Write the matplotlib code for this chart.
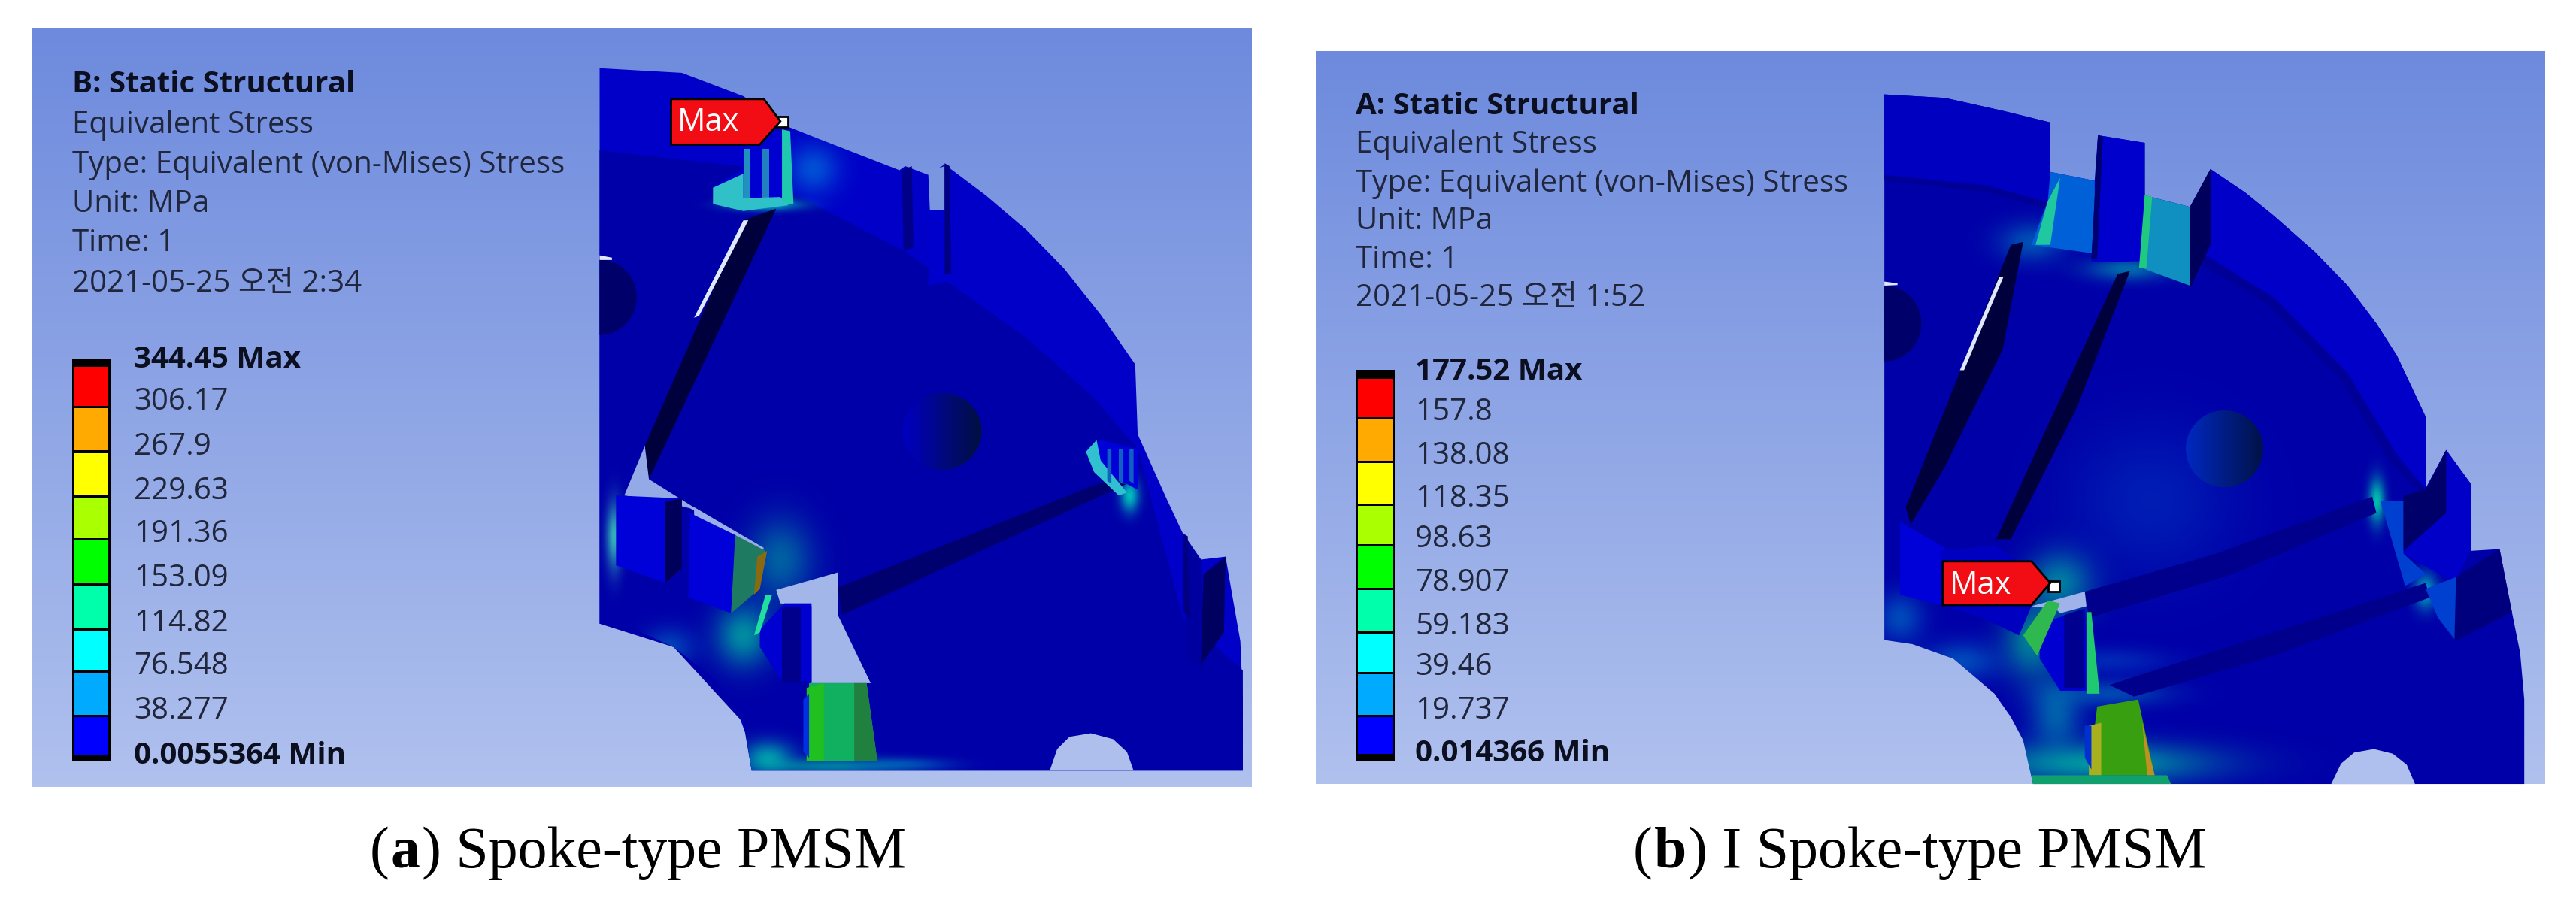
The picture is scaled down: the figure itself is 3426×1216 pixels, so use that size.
import numpy as np
import matplotlib
matplotlib.use("Agg")
import matplotlib.pyplot as plt
from matplotlib.patches import Polygon, Ellipse, Rectangle
from matplotlib.colors import LinearSegmentedColormap, to_rgb

plt.rcParams['font.family'] = ['Open Sans', 'Noto Sans CJK KR', 'DejaVu Sans']

# ---------- content ----------
band_colors = ['#FF0000', '#FFAA00', '#FFFF00', '#AAFF00', '#00FF00', '#00FFAA', '#00FFFF', '#00AAFF', '#0000FF']
labels_a = ['344.45 Max', '306.17', '267.9', '229.63', '191.36', '153.09', '114.82', '76.548', '38.277', '0.0055364 Min']
labels_b = ['177.52 Max', '157.8', '138.08', '118.35', '98.63', '78.907', '59.183', '39.46', '19.737', '0.014366 Min']
head_a = ['B: Static Structural', 'Equivalent Stress', 'Type: Equivalent (von-Mises) Stress', 'Unit: MPa', 'Time: 1', '2021-05-25 오전 2:34']
head_b = ['A: Static Structural', 'Equivalent Stress', 'Type: Equivalent (von-Mises) Stress', 'Unit: MPa', 'Time: 1', '2021-05-25 오전 1:52']

TXT = '#20263c'
BG_TOP, BG_BOT = '#6d8add', '#b0c1ee'
BLUE, BLUE2, DARK, NAVY = '#0000a8', '#0000c8', '#00006e', '#00003c'

fig = plt.figure(figsize=(34.26, 12.16), dpi=100, facecolor='white')
axa = fig.add_axes([0, 0, 0.5, 1])
axb = fig.add_axes([0.5, 0, 0.5, 1])
cmap_bg = LinearSegmentedColormap.from_list('bg', [BG_TOP, BG_BOT])

def setup(ax):
    ax.set_xlim(0, 1568); ax.set_ylim(1568, 0); ax.axis('off')

def poly(ax, pts, fc, ec='none', lw=0, z=3, alpha=None, clip=None):
    p = Polygon(pts, closed=True, fc=fc, ec=ec, lw=lw, zorder=z, alpha=alpha)
    ax.add_patch(p)
    if clip is not None:
        p.set_clip_path(clip)
    return p

def glow(ax, cx, cy, rx, ry, color, clip, strength=0.9, z=4):
    x0, x1, y0, y1 = cx - 3*rx, cx + 3*rx, cy - 3*ry, cy + 3*ry
    xx, yy = np.meshgrid(np.linspace(x0, x1, 90), np.linspace(y0, y1, 90))
    a = strength*np.exp(-((xx-cx)/rx)**2/2 - ((yy-cy)/ry)**2/2)
    rgba = np.zeros(a.shape + (4,))
    rgba[..., :3] = to_rgb(color); rgba[..., 3] = a
    im = ax.imshow(rgba, extent=(x0, x1, y1, y0), zorder=z, interpolation='bilinear', aspect='auto')
    im.set_clip_path(clip)
    ax.set_xlim(0, 1568); ax.set_ylim(1568, 0)

def hgrad(ax, cx, cy, rx, ry, c0, c1, z=5):
    e = Ellipse((cx, cy), 2*rx, 2*ry, fc='none', ec='none', zorder=z)
    ax.add_patch(e)
    g = np.linspace(0, 1, 64)[None, :]
    im = ax.imshow(g, cmap=LinearSegmentedColormap.from_list('h', [c0, c1]), zorder=z,
                   extent=(cx-rx, cx+rx, cy+ry, cy-ry), aspect='auto')
    im.set_clip_path(e)
    ax.set_xlim(0, 1568); ax.set_ylim(1568, 0)

def panel(ax, x0, x1, y0, y1):
    g = np.linspace(0, 1, 256)[:, None]
    ax.imshow(g, cmap=cmap_bg, extent=(x0, x1, y1, y0), aspect='auto', zorder=1)
    ax.set_xlim(0, 1568); ax.set_ylim(1568, 0)
    def bgc(y):
        return cmap_bg((y - y0) / (y1 - y0))
    return bgc

def legend(ax, xb0, xb1, top, edges, bottom, xt, ys, labels, heads, xh, yh):
    ax.add_patch(Rectangle((xb0, top), xb1-xb0, bottom-top, fc='black', ec='none', zorder=6))
    for i, c in enumerate(band_colors):
        ax.add_patch(Rectangle((xb0+3, edges[i]+2), xb1-xb0-6, edges[i+1]-edges[i]-4, fc=c, ec='none', zorder=7))
    for i, (lab, y) in enumerate(zip(labels, ys)):
        bold = i in (0, len(labels)-1)
        ax.text(xt, y, lab, fontsize=29, color='#0c0f20' if bold else TXT, fontweight='bold' if bold else 'normal',
                va='center', ha='left', zorder=8)
    for i, (h, y) in enumerate(zip(heads, yh)):
        ax.text(xh, y, h, fontsize=29, color='#0c0f20' if i == 0 else TXT, fontweight='bold' if i == 0 else 'normal',
                va='center', ha='left', zorder=8)

def tag(ax, pts, tx, ty, dot):
    poly(ax, pts, '#f20d14', ec='black', lw=2, z=9)
    ax.text(tx, ty, 'Max', color='white', fontsize=30, va='center', ha='left', zorder=10)
    ax.add_patch(Rectangle(dot, 14, 18, fc='white', ec='black', lw=2, zorder=8))

def caption(ax, x, y, parts):
    r = fig.canvas.get_renderer()
    for s, w in parts:
        t = ax.text(x, y, s, fontsize=56, family='Liberation Serif', fontweight=w, va='baseline', ha='left', color='black', zorder=8)
        x += t.get_window_extent(r).width * 1568 / 1713 + 2

# ==================== panel (a) ====================
setup(axa)
bg = panel(axa, 38, 1523, 48, 1350)
outer_a = [(730,117),(830,125),(905,165),(955,215),(1000,240),(1095,292),(1102,285),(1130,300),(1150,282),(1200,335),(1250,395),
           (1295,460),(1340,540),(1382,625),(1385,745),(1420,855),(1440,915),(1462,960),(1492,955),(1500,1020),(1510,1100),(1513,1200),(1513,1322),
           (915,1322),(908,1260),(895,1210),(870,1165),(820,1110),(770,1078),(730,1070)]
hole_a = [(1380,1322),(1372,1290),(1355,1268),(1328,1258),(1302,1264),(1287,1285),(1278,1322)]
body_a = poly(axa, outer_a, BLUE2, z=3)
face_a = [(730,258),(900,285),(1100,430),(1150,480),(1250,580),(1330,680),(1385,770),(1440,1060),(1513,1150),(1513,1322),(915,1322),(905,1240),(820,1110),(730,1070)]
poly(axa, face_a, BLUE, z=3.1)
for cx, cy, rx, ry, col, s in [(950,960,28,50,'#00a0a0',0.6),(905,1090,24,38,'#00c8a0',0.7),(815,1110,22,24,'#00a0d0',0.4),
                               (1010,1315,60,10,'#00d0a0',0.6),(935,1300,22,20,'#00d8b0',0.7),(1100,1312,40,8,'#00a0d0',0.4),
                               (1375,850,8,20,'#00e0c0',0.85),(990,290,22,30,'#0090e0',0.55),(748,920,7,40,'#40e0c0',0.8),
                               (930,352,30,7,'#00e8c0',0.8)]:
    glow(axa, cx, cy, rx, ry, col, body_a, s)
# pockets
poly(axa, [(945,358),(905,378),(785,765),(790,822)], NAVY, z=5)
poly(axa, [(905,378),(845,545),(851,542),(911,378)], '#dfe8ff', z=5.1)
poly(axa, [(1372,830),(1340,828),(1020,1008),(1025,1055)], DARK, z=5)
# cut-outs
poly(axa, [(785,765),(760,850),(812,862),(840,872),(932,945),(850,875),(790,822)], bg(810), z=5)
poly(axa, [(845,870),(930,940),(925,950),(895,918),(845,885)], bg(900), z=5)
poly(axa, [(945,1012),(1020,982),(1020,1055),(1060,1172),(988,1172),(988,1040),(950,1035)], bg(1080), z=5)
poly(axa, hole_a, bg(1300), z=5)
# magnet blocks
poly(axa, [(750,850),(830,855),(830,975),(810,1000),(750,970)], '#0000d8', z=5)
poly(axa, [(810,860),(830,855),(830,975),(810,1000)], '#00005a', z=5.1)
poly(axa, [(840,880),(895,918),(890,1052),(838,1025)], '#0000d8', z=5)
poly(axa, [(895,918),(932,945),(925,1010),(890,1052)], '#1e7a60', z=5.1)
poly(axa, [(922,955),(934,945),(925,1010),(918,1020)], '#8a6a10', z=5.2)
poly(axa, [(940,1020),(925,1085),(918,1090),(932,1020)], '#20e0a0', z=5.3)
poly(axa, [(925,1080),(955,1035),(988,1035),(988,1170),(950,1165),(925,1110)], '#0000d0', z=5)
poly(axa, [(952,1040),(975,1040),(975,1170),(952,1170)], '#00008c', z=5.1)
# green rib at the bottom
poly(axa, [(985,1172),(1055,1172),(1068,1305),(982,1305)], '#10b060', z=5)
poly(axa, [(982,1180),(1003,1172),(1003,1305),(982,1305)], '#20c020', z=5.1)
poly(axa, [(1040,1172),(1055,1172),(1068,1305),(1040,1305)], '#208040', z=5.1)
poly(axa, [(978,1200),(985,1190),(985,1300),(978,1290)], '#0030e0', z=5.2)
# upper notch & tooth
poly(axa, [(905,250),(955,215),(965,350),(870,352),(868,320),(905,290)], '#0000d0', z=5)
poly(axa, [(952,222),(962,225),(966,350),(952,350)], '#20c8b0', z=5.1)
poly(axa, [(905,255),(913,255),(913,345),(905,345)], '#2090c0', z=5.1)
poly(axa, [(928,255),(936,255),(936,345),(928,345)], '#2080c0', z=5.1)
poly(axa, [(868,322),(905,298),(905,340),(950,338),(960,352),(905,362),(868,350)], '#30c0c8', z=5.12)
poly(axa, [(1098,292),(1110,285),(1112,425),(1100,430)], '#000088', z=5)
poly(axa, [(1130,295),(1150,285),(1150,360),(1132,360)], bg(330), z=5)
poly(axa, [(1132,360),(1150,360),(1160,480),(1130,490)], '#0000cc', z=5)
poly(axa, [(1150,280),(1156,285),(1158,470),(1150,470)], '#000080', z=5.1)
# right notch
poly(axa, [(1322,770),(1340,755),(1385,770),(1385,840),(1345,810)], '#0000d8', z=5)
poly(axa, [(1322,775),(1335,755),(1340,790),(1372,845),(1362,850),(1332,810)], '#30c0d0', z=5.1)
for x in (1348, 1362, 1375):
    poly(axa, [(x,770),(x+5,770),(x+5,830),(x,825)], '#1060c0', z=5.2)
# right tooth
poly(axa, [(1440,915),(1462,960),(1465,1150),(1445,1130)], '#0000a0', z=5)
poly(axa, [(1462,1140),(1465,985),(1492,955),(1490,1085)], '#000060', z=5.1)
poly(axa, [(1440,915),(1446,920),(1448,1060),(1441,1050)], '#000080', z=5.1)
# holes
hgrad(axa, 1147, 740, 48, 66, '#0000c0', '#001040')
e = Ellipse((730, 510), 90, 130, fc='#00006a', ec='none', zorder=5); axa.add_patch(e)
e.set_clip_path(body_a)
poly(axa, [(730,438),(745,442),(745,446),(730,446)], '#e0e8ff', z=5.2)
tag(axa, [(817,170),(930,170),(950,208),(925,248),(817,248)], 825, 210, (945,200))
legend(axa, 88, 135, 615, [627,698,775,852,925,1002,1080,1152,1228,1297], 1306, 163, [617,690,767,843,916,993,1070,1143,1219,1296],
       labels_a, head_a, 88, [145,215,283,350,418,487])
caption(axa, 450, 1488, [('(', 'normal'), ('a', 'bold'), (') Spoke-type PMSM', 'normal')])

# ==================== panel (b) ====================
setup(axb)
bg = panel(axb, 34, 1530, 88, 1345)
outer_b = [(726,162),(800,168),(870,190),(928,210),(928,295),(982,310),(986,232),(1043,245),(1043,335),(1098,355),(1123,290),(1165,330),(1200,370),
           (1250,432),(1290,490),(1325,555),(1350,610),(1385,715),(1385,838),(1410,772),(1440,830),(1440,945),(1475,942),(1483,1000),(1490,1050),(1500,1120),(1505,1200),(1505,1345),
           (907,1345),(895,1270),(880,1230),(860,1190),(810,1130),(760,1105),(726,1098)]
hole_b = [(1372,1345),(1362,1312),(1345,1293),(1322,1285),(1298,1291),(1282,1310),(1270,1345)]
body_b = poly(axb, outer_b, BLUE, z=3)
poly(axb, [(726,162),(800,168),(870,190),(928,210),(928,350),(726,300)], '#0000c0', z=3.1)
poly(axb, [(1123,290),(1165,330),(1200,370),(1250,432),(1290,490),(1325,555),(1350,610),(1385,715),(1385,838),(1340,770),(1290,640),(1200,510),(1098,420)], '#0000c8', z=3.1)
poly(axb, [(726,300),(850,318),(1000,375),(1100,425),(1200,510),(1290,640),(1350,780),(1385,840),(1380,850),(1340,790),(1280,650),(1190,520),(1095,440),(1000,390),(850,330),(726,310)], '#000098', z=3.2)
for cx, cy, rx, ry, col, s in [(905,415,28,24,'#00a0c0',0.5),(1022,462,35,14,'#00b0b0',0.6),(940,1000,28,38,'#00c0a0',0.65),(905,1100,24,45,'#00b890',0.7),
                               (820,1135,32,24,'#00a0d0',0.45),(745,1060,20,30,'#00a0d0',0.45),(985,1310,100,25,'#00c8a0',0.75),(935,1225,22,45,'#00a0b0',0.6),
                               (1000,1190,50,16,'#00a0c0',0.45),(1050,860,70,90,'#0060d0',0.3),(1325,860,7,28,'#00e0b0',0.85),(1385,1015,10,22,'#00d0c0',0.75),(1000,1135,50,16,'#0070d0',0.35)]:
    glow(axb, cx, cy, rx, ry, col, body_b, s)
# pockets
poly(axb, [(895,415),(880,420),(752,870),(758,900),(800,800),(870,600)], NAVY, z=5)
poly(axb, [(866,475),(818,635),(823,635),(871,475)], '#dfe8ff', z=5.1)
poly(axb, [(1025,465),(1010,470),(925,730),(862,925),(880,925),(960,700)], NAVY, z=5)
poly(axb, [(1320,852),(1130,950),(970,1015),(975,1060),(1150,985),(1325,880)], '#00008c', z=5)
poly(axb, [(1385,1000),(1200,1085),(1000,1175),(1030,1195),(1200,1125),(1390,1025)], '#00008c', z=5)
# teeth & gaps
poly(axb, [(928,295),(982,310),(982,435),(905,420),(925,345)], '#0060d8', z=5)
poly(axb, [(910,420),(925,345),(940,305),(928,420)], '#20c8a0', z=5.1)
poly(axb, [(986,232),(1043,245),(1043,448),(978,450)], '#0000cc', z=5)
poly(axb, [(986,232),(992,235),(985,445),(978,445)], '#000070', z=5.1)
poly(axb, [(1043,335),(1098,355),(1098,490),(1040,460)], '#1090c0', z=5)
poly(axb, [(1043,335),(1052,338),(1045,460),(1036,460)], '#20c880', z=5.1)
poly(axb, [(1098,355),(1123,290),(1123,420),(1098,495)], '#00005c', z=5.2)
# right teeth
poly(axb, [(1385,838),(1410,772),(1440,830),(1440,945),(1420,1000),(1358,950)], '#0000c8', z=5)
poly(axb, [(1358,850),(1385,840),(1410,772),(1410,880),(1358,945)], '#00006a', z=5.1)
poly(axb, [(1330,860),(1358,860),(1358,950),(1385,985),(1360,1005)], '#0040d0', z=5.05)
poly(axb, [(1420,1100),(1422,990),(1475,942),(1490,1050)], '#00007e', z=5.1)
poly(axb, [(1385,1010),(1422,990),(1422,1100),(1400,1060)], '#0040d0', z=5.05)
# cut-outs
poly(axb, [(905,1040),(970,1015),(972,1040),(940,1052),(935,1045)], bg(1030), z=6)
poly(axb, hole_b, bg(1320), z=5)
# lower left blocks
poly(axb, [(745,895),(800,940),(800,1040),(745,1020)], '#0000d8', z=5)
poly(axb, [(795,945),(860,935),(925,1000),(905,1040),(890,1090),(845,1060),(800,1040)], '#0000c0', z=5)
poly(axb, [(925,1030),(940,1035),(912,1125),(895,1090)], '#30b850', z=6.1)
poly(axb, [(915,1070),(970,1045),(975,1185),(940,1185),(915,1130)], '#0000d0', z=5)
poly(axb, [(945,1055),(968,1045),(970,1180),(945,1180)], '#000090', z=5.1)
poly(axb, [(972,1050),(978,1050),(988,1190),(972,1190)], '#20c870', z=5.2)
# bottom rib
poly(axb, [(985,1212),(1035,1200),(1055,1330),(975,1330)], '#38a010', z=5)
poly(axb, [(975,1245),(990,1240),(990,1330),(975,1330)], '#a8b020', z=5.1)
poly(axb, [(1040,1240),(1048,1290),(1055,1330),(1046,1330)], '#c09020', z=5.1)
poly(axb, [(970,1245),(978,1245),(978,1320),(970,1300)], '#0030d0', z=5.2)
poly(axb, [(905,1330),(1070,1330),(1075,1345),(907,1345)], '#10a070', z=5.3)
# holes
hgrad(axb, 1140, 770, 47, 66, '#0028c0', '#001248')
e = Ellipse((726, 555), 90, 130, fc='#00006a', ec='none', zorder=5); axb.add_patch(e)
e.set_clip_path(body_b)
poly(axb, [(726,483),(742,486),(742,489),(726,490)], '#e0e8ff', z=5.2)
tag(axb, [(797,963),(905,963),(928,1000),(905,1038),(797,1038)], 805, 1005, (925,997))
legend(axb, 82, 130, 635, [648,718,792,866,936,1010,1085,1155,1228,1295], 1305, 155, [638,708,782,856,926,1000,1075,1145,1219,1293],
       labels_b, head_b, 82, [182,249,315,380,446,512])
caption(axb, 420, 1488, [('(', 'normal'), ('b', 'bold'), (') I Spoke-type PMSM', 'normal')])

fig.savefig('out.png', dpi=100, facecolor='white')
